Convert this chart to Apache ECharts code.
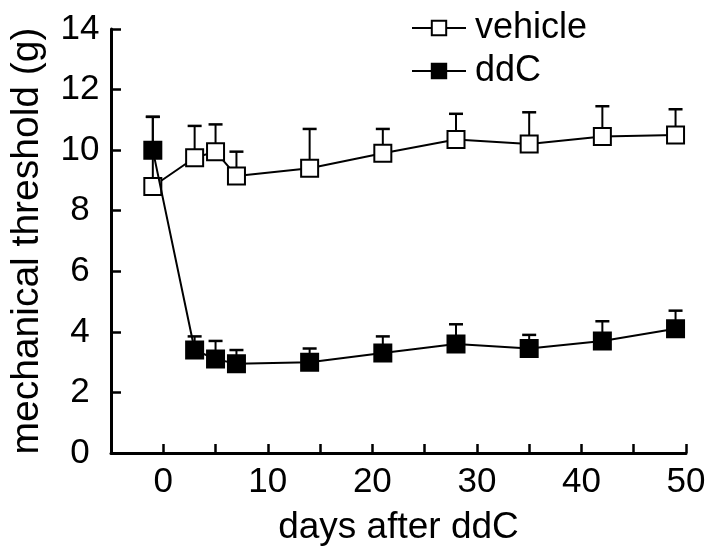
<!DOCTYPE html>
<html><head><meta charset="utf-8">
<script src="https://cdn.jsdelivr.net/npm/echarts@6/dist/echarts.min.js"></script>
<style>html,body{margin:0;padding:0;background:#fff}#c{width:714px;height:555px}</style>
</head><body><div id="c"></div>
<script>
const days = [-1, 3, 5, 7, 14, 21, 28, 35, 42, 49];
const vehicleMean = [8.8, 9.75, 9.95, 9.15, 9.4, 9.9, 10.35, 10.2, 10.45, 10.5];
const vehicleErr = [2.3, 1.05, 0.9, 0.8, 1.3, 0.8, 0.85, 1.05, 1.0, 0.85];
const ddcMean = [10.0, 3.4, 3.1, 2.95, 3.0, 3.3, 3.6, 3.45, 3.7, 4.1];
const ddcErr = [1.1, 0.45, 0.6, 0.45, 0.45, 0.55, 0.65, 0.45, 0.65, 0.6];
const xTicks = [0, 10, 20, 30, 40, 50];
const yTicks = [0, 2, 4, 6, 8, 10, 12, 14];

const FONT = '"Liberation Sans", Arial, sans-serif';
const chart = echarts.init(document.getElementById('c'), null, {renderer: 'canvas'});

function errData(mean, err) {
  return days.map((d, i) => [d, mean[i], mean[i] + err[i]]);
}
function errSeries(mean, err) {
  return {
    type: 'custom',
    data: errData(mean, err),
    z: 1,
    silent: true,
    renderItem: function (params, api) {
      const p0 = api.coord([api.value(0), api.value(1)]);
      const p1 = api.coord([api.value(0), api.value(2)]);
      const hw = 7;
      return {
        type: 'group',
        children: [
          {type: 'line', shape: {x1: p0[0], y1: p0[1], x2: p1[0], y2: p1[1]}, style: {stroke: '#000', lineWidth: 2}},
          {type: 'line', shape: {x1: p1[0] - hw, y1: p1[1], x2: p1[0] + hw, y2: p1[1]}, style: {stroke: '#000', lineWidth: 2.5}}
        ]
      };
    }
  };
}

chart.setOption({
  animation: false,
  backgroundColor: '#fff',
  grid: {left: 108, right: 28, top: 29, bottom: 102, containLabel: false},
  legend: {
    orient: 'vertical',
    left: 411,
    top: 10,
    padding: 0,
    itemWidth: 54,
    itemHeight: 18,
    itemGap: 7,
    textStyle: {fontFamily: FONT, fontSize: 36, color: '#000', padding: [0, 0, 0, 4]},
    data: ['vehicle', 'ddC']
  },
  xAxis: {
    type: 'value',
    min: -5, max: 50, interval: 5,
    name: 'days after ddC',
    nameLocation: 'middle',
    nameGap: 56,
    nameTextStyle: {fontFamily: FONT, fontSize: 37, color: '#000'},
    axisLine: {onZero: false, lineStyle: {color: '#000', width: 3}},
    axisTick: {inside: true, length: 9, lineStyle: {color: '#000', width: 2.5}},
    axisLabel: {
      fontFamily: FONT, fontSize: 35, color: '#000', margin: 12,
      formatter: v => (xTicks.indexOf(v) >= 0 ? String(v) : '')
    },
    splitLine: {show: false}
  },
  yAxis: {
    type: 'value',
    min: 0, max: 14, interval: 2,
    name: 'mechanical threshold (g)',
    nameLocation: 'middle',
    nameGap: 64,
    nameTextStyle: {fontFamily: FONT, fontSize: 39, color: '#000'},
    axisLine: {onZero: false, lineStyle: {color: '#000', width: 3}},
    axisTick: {inside: true, length: 10, lineStyle: {color: '#000', width: 2.5}},
    axisLabel: {
      fontFamily: FONT, fontSize: 35, color: '#000', margin: 31, align: 'center',
      formatter: v => (yTicks.indexOf(v) >= 0 ? String(v) : '')
    },
    splitLine: {show: false}
  },
  series: [
    errSeries(vehicleMean, vehicleErr),
    errSeries(ddcMean, ddcErr),
    {
      name: 'vehicle', type: 'line', z: 3,
      data: days.map((d, i) => [d, vehicleMean[i]]),
      symbol: 'rect', symbolSize: 17, showAllSymbol: true,
      lineStyle: {color: '#000', width: 2},
      itemStyle: {color: '#fff', borderColor: '#000', borderWidth: 2}
    },
    {
      name: 'ddC', type: 'line', z: 4,
      data: days.map((d, i) => [d, ddcMean[i]]),
      symbol: 'rect', symbolSize: 17, showAllSymbol: true,
      lineStyle: {color: '#000', width: 2},
      itemStyle: {color: '#000', borderColor: '#000', borderWidth: 2}
    }
  ]
});
</script></body></html>
